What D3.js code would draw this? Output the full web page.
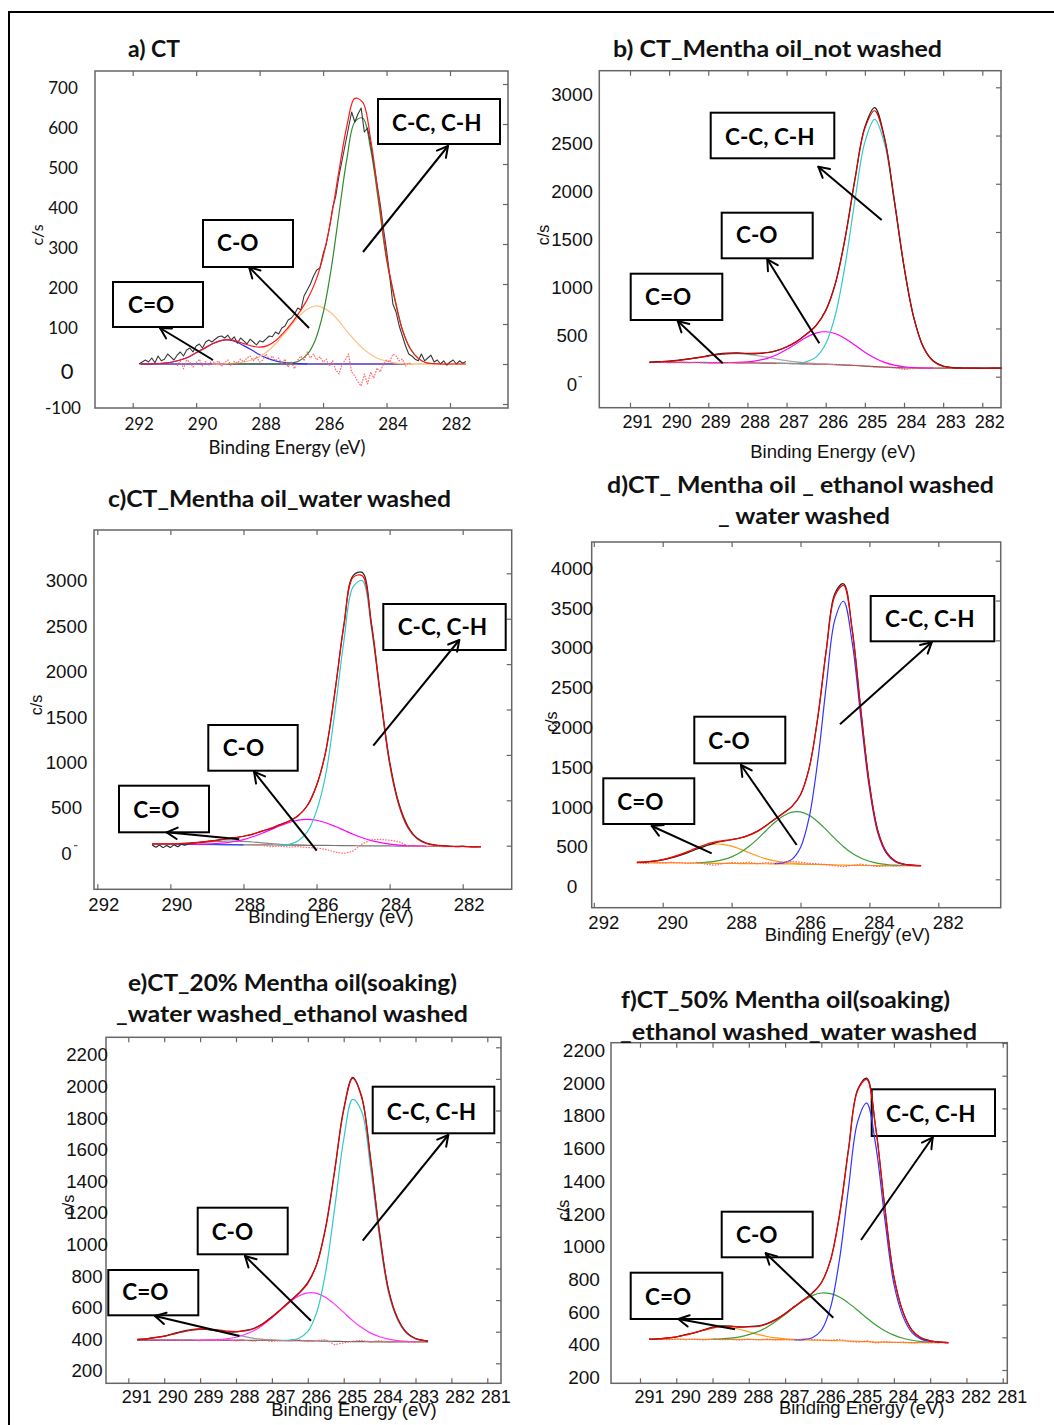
<!DOCTYPE html>
<html><head><meta charset="utf-8">
<script src="https://cdn.jsdelivr.net/npm/d3@7"></script>
<style>html,body{margin:0;padding:0;background:#fff;}svg{display:block;}</style>
</head><body>
<svg id="chart" width="1054" height="1425"></svg>
<script>
// ===================== DATA =====================
// ---- Panel a) CT ----
const aXTicks = [292, 290, 288, 286, 284, 282];
const aYTicks = [700, 600, 500, 400, 300, 200, 100, 0, -100];
const aEnergy = [291.75,291.5,291.25,291,290.75,290.5,290.25,290,289.75,289.5,289.25,289,288.75,288.5,288.25,288,287.75,287.5,287.25,287,286.75,286.5,286.25,286,285.75,285.5,285.25,285,284.75,284.5,284.25,284,283.75,283.5,283.25,283,282.75,282.5,282.25,282,281.75,281.5];
const aEnvelope = [0,0,1,2,5,10,17,28,39,50,58,61,58,51,45,42,46,58,78,101,129,161,204,268,363,482,595,664,654,561,417,268,168,86,38,14,3,1,0,0,0,0];
const aCdO = [0,0,1,2,5,10,17,28,39,50,58,60,56,46,35,23,14,8,4,2,1,0,null,null,null,null,null,null,null,null,null,null,null,null,null,null,null,null,null,null,null,null];
const aCO = [null,null,null,null,null,null,null,null,null,0,0,1,2,5,10,19,32,50,73,97,120,137,145,141,128,107,82,59,39,24,13,7,3,1,0,null,null,null,null,null,null,null];
const aCC = [null,null,null,null,null,null,null,null,null,null,null,0,0,0,0,0,0,0,1,2,8,24,59,127,235,375,513,605,615,537,404,261,165,85,38,14,3,1,null,null,null,null];
const aBaseEnergy = [291.8, 281.5];
const aBase = [0, 0];
const aBlueBaseEnergy = [291.75, 283.4];
const aBlueBase = [0, 0];
const aRawEnergy = [291.8,291.7,291.6,291.5,291.4,291.3,291.2,291.1,291.0,290.9,290.8,290.7,290.6,290.5,290.4,290.3,290.2,290.1,290.0,289.9,289.8,289.7,289.6,289.5,289.4,289.3,289.2,289.1,289.0,288.9,288.8,288.7,288.6,288.5,288.4,288.3,288.2,288.1,288.0,287.9,287.8,287.7,287.6,287.5,287.4,287.3,287.2,287.1,287.0,286.9,286.8,286.7,286.6,286.5,286.4,286.3,286.2,286.1,286.0,285.9,285.8,285.7,285.6,285.5,285.4,285.3,285.2,285.1,285.0,284.9,284.8,284.7,284.6,284.5,284.4,284.3,284.2,284.1,284.0,283.9,283.8,283.7,283.6,283.5,283.4,283.3,283.2,283.1,283.0,282.9,282.8,282.7,282.6,282.5,282.4,282.3,282.2,282.1,282.0,281.9,281.8,281.7,281.6,281.5];
const aRaw = [0,5,10,5,15,3,20,8,12,25,18,10,22,30,20,35,40,30,45,50,40,55,60,55,62,68,70,65,72,60,68,52,65,58,50,62,55,48,58,55,62,70,68,80,75,90,95,110,115,125,140,135,170,185,200,220,235,240,275,300,340,390,420,470,510,550,590,630,605,625,640,580,590,550,500,450,400,340,285,220,150,130,95,70,45,25,20,12,8,25,8,15,22,5,10,0,8,-3,5,10,0,8,2,6];
const aResEnergy = [290.6,290.5,290.4,290.3,290.2,290.1,290.0,289.9,289.8,289.7,289.6,289.5,289.4,289.3,289.2,289.1,289.0,288.9,288.8,288.7,288.6,288.5,288.4,288.3,288.2,288.1,288.0,287.9,287.8,287.7,287.6,287.5,287.4,287.3,287.2,287.1,287.0,286.9,286.8,286.7,286.6,286.5,286.4,286.3,286.2,286.1,286.0,285.9,285.8,285.7,285.6,285.5,285.4,285.3,285.2,285.1,285.0,284.9,284.8,284.7,284.6,284.5,284.4,284.3,284.2,284.1,284.0,283.9,283.8,283.7,283.6,283.5,283.4,283.3,283.2];
const aResidual = [-5,8,-12,10,5,-8,3,12,-5,6,-3,10,0,8,-6,4,10,-4,6,2,12,5,15,20,8,18,5,10,25,12,20,8,15,0,12,-8,5,-12,10,20,8,30,15,25,10,18,5,12,-5,8,-15,-25,0,10,25,-20,-30,-45,-55,-25,-50,-20,-35,-10,-20,0,10,5,25,20,8,12,-5,3,-2];

// ---- Panel b) CT_Mentha oil_not washed ----
const bXTicks = [291, 290, 289, 288, 287, 286, 285, 284, 283, 282];
const bYTicks = [3000, 2500, 2000, 1500, 1000, 500, 0];
const bEnergy = [290.5,290.25,290,289.75,289.5,289.25,289,288.75,288.5,288.25,288,287.75,287.5,287.25,287,286.75,286.5,286.25,286,285.75,285.5,285.25,285,284.75,284.5,284.25,284,283.75,283.5,283.25,283,282.75,282.5,282.25,282,281.75,281.5];
const bBaseline = [148,148,148,148,147,147,146,146,145,144,143,142,141,139,137,135,133,131,128,125,121,116,110,104,99,95,92,90,89,88,88,88,88,88,88,88,88];
const bPurpleEnergy = [290.5, 288.5];
const bPurple = [148, 145];
const bCdO = [151,155,161,170,182,198,214,229,237,239,232,219,202,183,166,153,143,136,130,126,null,null,null,null,null,null,null,null,null,null,null,null,null,null,null,null,null];
const bCO = [null,null,null,null,null,null,146,147,147,148,154,167,190,228,281,344,406,451,466,445,394,325,254,193,148,120,103,94,91,88,null,null,null,null,null,null,null];
const bCC = [null,null,null,null,null,null,null,null,null,null,null,null,null,139,138,139,153,203,341,647,1168,1838,2431,2668,2420,1817,1139,612,302,160,108,92,89,88,88,88,88];
const bResidual = [146,150,144,149,145,150,147,143,146,142,147,141,145,140,139,134,136,132,130,127,124,118,112,100,96,98,75,85,90,86,90,85,89,87,86,89,87];
const bRaw = [150,156,160,172,185,200,218,236,245,247,240,238,248,270,308,362,440,530,690,975,1450,2060,2590,2790,2480,1830,1140,610,300,162,110,95,90,88,87,88,88];
const bEnvelope = [151,155,161,170,182,198,214,230,239,243,243,244,251,272,311,366,436,528,681,968,1441,2047,2575,2757,2469,1842,1150,616,304,160,108,92,89,88,88,88,88];

// ---- Panel c) CT_Mentha oil_water washed ----
const cXTicks = [292, 290, 288, 286, 284, 282];
const cYTicks = [3000, 2500, 2000, 1500, 1000, 500, 0];
const cEnergy = [290.5,290.25,290,289.75,289.5,289.25,289,288.75,288.5,288.25,288,287.75,287.5,287.25,287,286.75,286.5,286.25,286,285.75,285.5,285.25,285,284.75,284.5,284.25,284,283.75,283.5,283.25,283,282.75,282.5,282.25,282,281.75,281.5];
const cBaseline = [19,18,17,16,16,15,14,13,12,11,10,10,9,8,7,6,5,4,4,3,2,1,0,-1,-1,-2,-3,-4,-4,-5,-6,-7,-8,-9,-9,-10,-11];
const cBlueEnergy = [290.5, 288.0];
const cBlue = [19, 10];
const cCdO = [20,20,20,23,28,33,40,47,51,51,47,41,32,24,16,11,8,5,null,null,null,null,null,null,null,null,null,null,null,null,null,null,null,null,null,null,null];
const cCO = [null,null,null,null,17,18,19,24,32,46,67,98,135,177,219,256,281,289,280,253,214,170,126,87,56,33,17,7,1,-2,-5,null,null,null,null,null,null];
const cCC = [null,null,null,null,null,null,null,null,null,null,null,null,null,null,8,14,55,154,384,780,1469,2257,2850,2920,2399,1621,893,446,196,75,24,5,-3,-9,-9,-10,-11];
const cResidual = [null,null,null,null,null,null,null,null,null,null,null,8,5,-10,-5,-15,-10,-20,-25,-40,-70,-85,-60,20,65,70,60,45,0,-5,-10,-5,-12,-10,-8,-12,-10];
const cRawEnergy = [290.5,290.4,290.3,290.2,290.1,290,289.9,289.8,289.7,289.6,289.5,289.25,289,288.75,288.5,288.25,288,287.75,287.5,287.25,287,286.75,286.5,286.25,286,285.75,285.5,285.25,285,284.75,284.5,284.25,284,283.75,283.5,283.25,283,282.75,282.5,282.25,282,281.75,281.5];
const cRaw = [10,-15,5,-20,0,-18,8,-10,15,5,22,35,48,60,74,88,104,125,160,190,232,272,330,445,665,1040,1690,2440,2975,3010,2440,1650,930,470,215,85,30,8,0,-8,-5,-12,-10];
const cEnvelope = [20,20,20,23,29,36,45,58,71,86,104,129,158,193,229,269,334,440,660,1030,1681,2426,2955,2973,2456,1656,913,457,201,78,25,5,-3,-9,-9,-10,-11];

// ---- Panel d) CT_ Mentha oil _ ethanol washed _ water washed ----
const dXTicks = [292, 290, 288, 286, 284, 282];
const dYTicks = [4000, 3500, 3000, 2500, 2000, 1500, 1000, 500, 0];
const dEnergy = [290.75,290.5,290.25,290,289.75,289.5,289.25,289,288.75,288.5,288.25,288,287.75,287.5,287.25,287,286.75,286.5,286.25,286,285.75,285.5,285.25,285,284.75,284.5,284.25,284,283.75,283.5,283.25,283,282.75,282.5];
const dBaseline = [208,208,207,207,206,205,204,203,202,201,200,199,198,197,196,195,194,193,192,190,188,186,183,180,177,175,174,173,172,172,171,171,171,171];
const dCdO = [213,219,230,248,275,310,351,392,425,442,439,416,379,336,293,257,231,213,202,194,190,null,null,null,null,null,null,null,null,null,null,null,null,null];
const dCO = [null,null,null,null,null,null,null,208,214,225,247,282,337,412,505,610,713,795,844,846,803,723,620,510,409,327,267,226,200,186,177,174,null,null];
const dCC = [null,null,null,null,null,null,null,null,null,null,null,null,null,null,null,null,196,206,250,398,773,1484,2437,3263,3491,2975,2035,1143,571,322,221,186,176,171];
const dResidual = [205,200,210,205,215,208,200,212,190,178,195,210,205,215,195,210,200,215,225,215,200,195,185,170,160,175,190,175,160,170,165,172,168,170];
const dRaw = [212,216,228,245,268,300,338,380,420,455,478,497,520,555,605,675,755,832,915,1065,1395,2030,2890,3590,3710,3140,2135,1200,605,338,230,190,178,172];
const dEnvelope = [213,219,230,248,275,310,351,397,437,466,486,499,518,551,602,672,752,828,912,1058,1390,2021,2874,3560,3690,3127,2128,1196,599,336,227,189,176,171];

// ---- Panel e) CT_20% Mentha oil(soaking)_water washed_ethanol washed ----
const eXTicks = [291, 290, 289, 288, 287, 286, 285, 284, 283, 282, 281];
const eYTicks = [2200, 2000, 1800, 1600, 1400, 1200, 1000, 800, 600, 400, 200];
const eEnergy = [290.75,290.5,290.25,290,289.75,289.5,289.25,289,288.75,288.5,288.25,288,287.75,287.5,287.25,287,286.75,286.5,286.25,286,285.75,285.5,285.25,285,284.75,284.5,284.25,284,283.75,283.5,283.25,283,282.75,282.65];
const eBaseline = [347,347,347,347,347,347,346,346,346,346,346,346,346,345,345,345,344,344,343,342,341,340,339,338,337,337,336,336,336,336,335,335,335,335];
const ePurpleEnergy = [290.75, 287.75];
const ePurple = [347, 346];
const eCdO = [351,355,362,372,385,398,409,415,415,407,395,381,369,358,352,348,345,null,null,null,null,null,null,null,null,null,null,null,null,null,null,null,null,null];
const eCO = [null,null,null,null,null,null,null,347,348,350,355,365,382,406,442,488,538,588,626,646,643,617,573,522,470,426,391,368,353,344,339,336,null,null];
const eCC = [null,null,null,null,null,null,null,null,null,null,null,null,null,null,null,null,345,347,359,402,524,782,1184,1617,1870,1793,1433,990,645,476,390,355,343,340];
const eResidual = [348,346,350,345,349,344,348,343,347,344,349,342,346,340,348,338,345,341,350,337,344,349,318,330,340,345,336,344,332,340,338,333,337,335];
const eRaw = [350,353,364,370,388,402,414,418,412,404,398,399,408,422,452,495,543,594,645,712,830,1065,1425,1810,2010,1890,1492,1025,665,486,395,357,344,340];
const eEnvelope = [351,355,362,372,385,398,409,416,417,411,404,400,405,419,449,491,540,591,642,706,826,1059,1418,1801,2003,1882,1488,1022,662,484,394,356,343,340];

// ---- Panel f) CT_50% Mentha oil(soaking)_ethanol washed_water washed ----
const fXTicks = [291, 290, 289, 288, 287, 286, 285, 284, 283, 282, 281];
const fYTicks = [2200, 2000, 1800, 1600, 1400, 1200, 1000, 800, 600, 400, 200];
const fEnergy = [290.75,290.5,290.25,290,289.75,289.5,289.25,289,288.75,288.5,288.25,288,287.75,287.5,287.25,287,286.75,286.5,286.25,286,285.75,285.5,285.25,285,284.75,284.5,284.25,284,283.75,283.5,283.25,283,282.75,282.5];
const fBaseline = [388,388,388,388,388,388,387,387,387,387,387,387,386,386,386,385,385,384,383,382,380,379,377,375,373,371,370,369,368,368,367,367,367,367];
const fCdO = [389,391,395,403,414,429,443,456,462,459,449,434,418,405,396,390,387,null,null,null,null,null,null,null,null,null,null,null,null,null,null,null,null,null];
const fCO = [null,null,null,null,null,null,null,389,391,395,403,416,434,462,498,539,583,624,655,671,667,646,609,565,518,475,440,413,394,382,374,370,368,null];
const fCC = [null,null,null,null,null,null,null,null,null,null,null,null,null,null,null,null,385,386,397,443,580,876,1315,1718,1832,1574,1123,726,528,428,389,375,370,367];
const fResidual = [387,389,385,390,386,388,384,389,385,387,383,388,385,389,384,387,383,390,386,384,381,388,376,370,378,366,374,368,371,365,369,366,370,364];
const fRaw = [388,390,396,402,416,427,445,462,470,468,462,466,470,484,510,546,588,628,672,735,872,1150,1555,1915,1985,1680,1195,772,556,444,397,379,370,368];
const fEnvelope = [389,391,395,403,414,429,443,458,466,467,465,463,466,481,508,544,585,626,669,732,867,1143,1547,1908,1977,1678,1193,770,554,442,396,378,371,367];

const peakLabels = ['C-C, C-H', 'C-O', 'C=O'];
const xTitle = 'Binding Energy (eV)';
const yTitle = 'c/s';

// ===================== DRAWING =====================
const svg = d3.select('#chart');
const FRAME = '#666';
const SANS = "'Liberation Sans', Arial, sans-serif";
const LATO = "Lato, 'Open Sans', sans-serif";

// outer figure frame
svg.append('line').attr('x1', 9).attr('y1', 12).attr('x2', 1054).attr('y2', 12).attr('stroke', '#000').attr('stroke-width', 2);
svg.append('line').attr('x1', 9).attr('y1', 11).attr('x2', 9).attr('y2', 1425).attr('stroke', '#000').attr('stroke-width', 2);

function arrow(g, x1, y1, x2, y2) {
  g.append('line').attr('x1', x1).attr('y1', y1).attr('x2', x2).attr('y2', y2)
    .attr('stroke', '#000').attr('stroke-width', 2);
  const ang = Math.atan2(y2 - y1, x2 - x1);
  const L = 12, A = 0.5;
  [ang + Math.PI - A, ang + Math.PI + A].forEach(a => {
    g.append('line').attr('x1', x2).attr('y1', y2)
      .attr('x2', x2 + L * Math.cos(a)).attr('y2', y2 + L * Math.sin(a))
      .attr('stroke', '#000').attr('stroke-width', 2).attr('stroke-linecap', 'round');
  });
}

function drawPanel(p) {
  const g = svg.append('g');
  const b = p.box;
  const x = d3.scaleLinear().domain(p.xDom).range(p.xRange);
  const y = d3.scaleLinear().domain(p.yDom).range(p.yRange);

  g.append('rect').attr('x', b.l).attr('y', b.t).attr('width', b.r - b.l).attr('height', b.b - b.t)
    .attr('fill', 'none').attr('stroke', FRAME).attr('stroke-width', 1.5);

  const tickStyle = s => { s.select('.domain').remove(); s.selectAll('line').attr('stroke', FRAME).attr('stroke-width', 1.2); };
  g.append('g').attr('transform', `translate(0,${b.t})`)
    .call(d3.axisTop(x).tickValues(p.xTicks).tickSize(-5).tickFormat('')).call(tickStyle);
  g.append('g').attr('transform', `translate(0,${b.b})`)
    .call(d3.axisBottom(x).tickValues(p.xTicks).tickSize(-5).tickFormat('')).call(tickStyle);
  g.append('g').attr('transform', `translate(${b.r},0)`)
    .call(d3.axisRight(y).tickValues(p.yTicks).tickSize(-5).tickFormat('')).call(tickStyle);

  // x tick labels
  const xl = g.append('g').attr('transform', `translate(${p.xLabelDx},${b.b + p.xLabelBase})`)
    .call(d3.axisBottom(x).tickValues(p.xTicks).tickSize(0).tickPadding(0).tickFormat(d => String(d)));
  xl.select('.domain').remove();
  xl.attr('font-family', p.font).attr('font-size', p.xLabelSize);
  xl.selectAll('text').attr('y', 0).attr('dy', null).attr('fill', '#111');

  // y tick labels
  const yl = g.append('g').attr('transform', `translate(${p.yLabelX},0)`)
    .call(d3.axisLeft(y).tickValues(p.yTicks).tickSize(0).tickPadding(0).tickFormat(d => String(d)));
  yl.select('.domain').remove();
  yl.attr('font-family', p.font).attr('font-size', p.yLabelSize).attr('text-anchor', 'middle');
  yl.selectAll('text').attr('x', 0).attr('dy', null).attr('y', p.yLabelBase).attr('fill', '#111');
  if (p.bigZero) {
    yl.selectAll('text').filter(d => d === 0).attr('font-size', 22).attr('x', 4).attr('y', 14.5);
  }
  if (p.zeroDash) {
    g.append('line').attr('x1', p.zeroDash[0]).attr('x2', p.zeroDash[0] + 3.5)
      .attr('y1', y(0)).attr('y2', y(0)).attr('stroke', '#333').attr('stroke-width', 1);
  }

  // axis titles
  g.append('text').attr('x', p.xTitlePos[0]).attr('y', p.xTitlePos[1]).attr('text-anchor', 'middle')
    .attr('font-family', p.font).attr('font-size', 18.5).attr('fill', '#111').text(xTitle);
  g.append('text').attr('transform', `translate(${p.yTitlePos[0]},${p.yTitlePos[1]}) rotate(-90)`)
    .attr('text-anchor', 'middle').attr('dominant-baseline', 'central')
    .attr('font-family', p.font).attr('font-size', 16).attr('fill', '#111').text(yTitle);

  // annotation boxes (drawn beneath curves)
  p.notes.forEach(n => {
    g.append('rect').attr('x', n.box[0]).attr('y', n.box[1]).attr('width', n.box[2] - n.box[0]).attr('height', n.box[3] - n.box[1])
      .attr('fill', '#fff').attr('stroke', '#000').attr('stroke-width', 2);
  });

  // series
  p.series.forEach(s => {
    const line = d3.line().defined(d => d[1] != null)
      .x(d => x(d[0])).y(d => y(d[1]))
      .curve(s.linear ? d3.curveLinear : d3.curveCatmullRom.alpha(0.5));
    const pts = s.energy.map((e, i) => [e, s.values[i]]);
    g.append('path').attr('d', line(pts)).attr('fill', 'none')
      .attr('stroke', s.color).attr('stroke-width', s.width || 1.2)
      .attr('stroke-dasharray', s.dash || null).attr('stroke-linejoin', 'round');
  });

  // annotation texts and arrows
  p.notes.forEach(n => {
    g.append('text').attr('x', n.text[0]).attr('y', n.text[1])
      .attr('font-family', LATO).attr('font-weight', 700).attr('font-size', 22.5).attr('fill', '#000').text(n.label);
    arrow(g, n.arrow[0], n.arrow[1], n.arrow[2], n.arrow[3]);
  });
}

const res = '1.6,1.2';

drawPanel({
  box: {l: 95, t: 71, r: 508, b: 408},
  xDom: [292, 282], xRange: [132.7, 450], yDom: [0, 700], yRange: [364, 84],
  xTicks: aXTicks, yTicks: aYTicks, font: LATO, xLabelSize: 17, yLabelSize: 17,
  xLabelDx: 6, xLabelBase: 22, yLabelX: 63, yLabelBase: 9.5, bigZero: true,
  xTitlePos: [287, 454], yTitlePos: [36, 235],
  notes: [
    {label: peakLabels[0], box: [378, 99, 500, 144], text: [392, 131], arrow: [363, 252, 448, 146]},
    {label: peakLabels[1], box: [203, 220, 293, 267], text: [217, 251], arrow: [309, 328, 249, 267]},
    {label: peakLabels[2], box: [113, 282, 203, 327], text: [128, 313], arrow: [213, 360, 160, 328]}
  ],
  series: [
    {energy: aBaseEnergy, values: aBase, color: '#ff9933', linear: true},
    {energy: aBlueBaseEnergy, values: aBlueBase, color: '#0000ff', linear: true},
    {energy: aEnergy, values: aCdO, color: '#2a2aff'},
    {energy: aEnergy, values: aCO, color: '#ffbf80'},
    {energy: aEnergy, values: aCC, color: '#2e8b2e'},
    {energy: aResEnergy, values: aResidual, color: '#ff6a6a', linear: true, dash: res},
    {energy: aRawEnergy, values: aRaw, color: '#383838', linear: true, width: 1.1},
    {energy: aEnergy, values: aEnvelope, color: '#ff1a1a'}
  ]
});

drawPanel({
  box: {l: 599.3, t: 70.7, r: 1001, b: 407.7},
  xDom: [291, 282], xRange: [630, 982.3], yDom: [0, 3000], yRange: [376.7, 87.3],
  xTicks: bXTicks, yTicks: bYTicks, font: SANS, xLabelSize: 18, yLabelSize: 18.7,
  xLabelDx: 7, xLabelBase: 20.5, yLabelX: 572, yLabelBase: 13.5, zeroDash: [578.5],
  xTitlePos: [833, 457.7], yTitlePos: [543, 235],
  notes: [
    {label: peakLabels[0], box: [710.7, 112.7, 834.3, 158.3], text: [725, 144.5], arrow: [881.7, 220, 818.3, 166.7]},
    {label: peakLabels[1], box: [721.7, 212.7, 812.7, 258.3], text: [736, 243], arrow: [819.3, 343.3, 767.3, 259.3]},
    {label: peakLabels[2], box: [630.7, 273.7, 722.3, 320], text: [645, 304.5], arrow: [722.7, 363.3, 677.7, 321]}
  ],
  series: [
    {energy: bEnergy, values: bBaseline, color: '#555'},
    {energy: bPurpleEnergy, values: bPurple, color: '#8a3bd0', linear: true},
    {energy: bEnergy, values: bCdO, color: '#aaaaaa'},
    {energy: bEnergy, values: bCO, color: '#ff00ff'},
    {energy: bEnergy, values: bCC, color: '#33c9c9'},
    {energy: bEnergy, values: bResidual, color: '#ff5a5a', linear: true, dash: res},
    {energy: bEnergy, values: bRaw, color: '#222'},
    {energy: bEnergy, values: bEnvelope, color: '#e00000'}
  ]
});

drawPanel({
  box: {l: 94, t: 530, r: 511.7, b: 889.3},
  xDom: [292, 282], xRange: [97.3, 462.7], yDom: [0, 3000], yRange: [845.7, 573.3],
  xTicks: cXTicks, yTicks: cYTicks, font: SANS, xLabelSize: 18.5, yLabelSize: 18.7,
  xLabelDx: 6, xLabelBase: 21.4, yLabelX: 66.5, yLabelBase: 13.5, zeroDash: [74],
  xTitlePos: [331, 923.3], yTitlePos: [36, 705],
  notes: [
    {label: peakLabels[0], box: [383.3, 604, 505.7, 650], text: [397.7, 634.5], arrow: [373.3, 745.7, 459.3, 640]},
    {label: peakLabels[1], box: [208.3, 725, 297.7, 770.7], text: [222.7, 756], arrow: [316.7, 850.7, 254, 771.7]},
    {label: peakLabels[2], box: [119, 785.7, 209, 832.3], text: [133.3, 818], arrow: [239.3, 839.3, 166.7, 832.3]}
  ],
  series: [
    {energy: cEnergy, values: cBaseline, color: '#777'},
    {energy: cBlueEnergy, values: cBlue, color: '#3344ff', linear: true},
    {energy: cEnergy, values: cCdO, color: '#888'},
    {energy: cEnergy, values: cCO, color: '#ff00ff'},
    {energy: cEnergy, values: cCC, color: '#33c9c9'},
    {energy: cEnergy, values: cResidual, color: '#ff6f6f', linear: true, dash: res},
    {energy: cRawEnergy, values: cRaw, color: '#2a2a2a'},
    {energy: cEnergy, values: cEnvelope, color: '#ff0000'}
  ]
});

drawPanel({
  box: {l: 591.7, t: 542, r: 1000.7, b: 907.7},
  xDom: [290, 282], xRange: [662.7, 938.3], yDom: [0, 4000], yRange: [879.3, 560.7],
  xTicks: dXTicks, yTicks: dYTicks, font: SANS, xLabelSize: 18.5, yLabelSize: 19,
  xLabelDx: 9.5, xLabelBase: 21.6, yLabelX: 572, yLabelBase: 13.5,
  xTitlePos: [847.5, 940.7], yTitlePos: [551.7, 721.7],
  notes: [
    {label: peakLabels[0], box: [870.7, 596, 994.3, 641.3], text: [885, 627], arrow: [840, 724.3, 931.7, 642.3]},
    {label: peakLabels[1], box: [694.3, 716.7, 785.3, 763.3], text: [708.3, 748.5], arrow: [796.7, 845, 741, 765]},
    {label: peakLabels[2], box: [603.3, 778.3, 694.3, 824], text: [617.3, 809.5], arrow: [711.7, 853.3, 651.7, 826]}
  ],
  series: [
    {energy: dEnergy, values: dBaseline, color: '#ff9900'},
    {energy: dEnergy, values: dCdO, color: '#ff9a1a'},
    {energy: dEnergy, values: dCO, color: '#3a9e3a'},
    {energy: dEnergy, values: dCC, color: '#3333ff'},
    {energy: dEnergy, values: dResidual, color: '#ff6666', linear: true, dash: res},
    {energy: dEnergy, values: dRaw, color: '#222'},
    {energy: dEnergy, values: dEnvelope, color: '#ff0000'}
  ]
});

drawPanel({
  box: {l: 106, t: 1037.3, r: 501, b: 1383.3},
  xDom: [291, 281], xRange: [128.3, 487.3], yDom: [200, 2200], yRange: [1363.3, 1047.3],
  xTicks: eXTicks, yTicks: eYTicks, font: SANS, xLabelSize: 18, yLabelSize: 18.7,
  xLabelDx: 8, xLabelBase: 20, yLabelX: 87, yLabelBase: 13.5,
  xTitlePos: [354, 1415.7], yTitlePos: [68.3, 1205],
  notes: [
    {label: peakLabels[0], box: [372.7, 1086.7, 494.3, 1133.3], text: [386.7, 1119.5], arrow: [362.7, 1240.7, 448.3, 1135]},
    {label: peakLabels[1], box: [197.7, 1207.7, 287.7, 1254.3], text: [211.7, 1239.5], arrow: [311, 1320.7, 245, 1256]},
    {label: peakLabels[2], box: [108.3, 1270, 198.3, 1315.3], text: [122.3, 1300.3], arrow: [239.3, 1336, 155, 1316]}
  ],
  series: [
    {energy: eEnergy, values: eBaseline, color: '#666'},
    {energy: ePurpleEnergy, values: ePurple, color: '#9933cc', linear: true},
    {energy: eEnergy, values: eCdO, color: '#999'},
    {energy: eEnergy, values: eCO, color: '#ff33ff'},
    {energy: eEnergy, values: eCC, color: '#33c9c9'},
    {energy: eEnergy, values: eResidual, color: '#ff6666', linear: true, dash: res},
    {energy: eEnergy, values: eRaw, color: '#333'},
    {energy: eEnergy, values: eEnvelope, color: '#ee0000'}
  ]
});

drawPanel({
  box: {l: 611, t: 1042.7, r: 1007.3, b: 1383.3},
  xDom: [291, 281], xRange: [640, 1002.7], yDom: [200, 2000], yRange: [1370, 1075.7],
  xTicks: fXTicks, yTicks: fYTicks, font: SANS, xLabelSize: 18, yLabelSize: 19,
  xLabelDx: 9, xLabelBase: 20, yLabelX: 584, yLabelBase: 13.5,
  xTitlePos: [861.7, 1414.3], yTitlePos: [563.3, 1210],
  notes: [
    {label: peakLabels[0], box: [871.7, 1089.3, 995, 1136], text: [886, 1122], arrow: [861, 1240, 932.7, 1137.3]},
    {label: peakLabels[1], box: [721.7, 1211.7, 812.7, 1257.3], text: [736, 1243], arrow: [833.3, 1317.7, 765.7, 1253.3]},
    {label: peakLabels[2], box: [630.7, 1272.7, 722.3, 1319], text: [645, 1304.5], arrow: [735, 1329.3, 678.3, 1319]}
  ],
  series: [
    {energy: fEnergy, values: fBaseline, color: '#ff9900'},
    {energy: fEnergy, values: fCdO, color: '#ff9a1a'},
    {energy: fEnergy, values: fCO, color: '#3a9e3a'},
    {energy: fEnergy, values: fCC, color: '#3333ff'},
    {energy: fEnergy, values: fResidual, color: '#ff6666', linear: true, dash: res},
    {energy: fEnergy, values: fRaw, color: '#222'},
    {energy: fEnergy, values: fEnvelope, color: '#ff0000'}
  ]
});

// panel titles
const titles = [
  {t: 'a) CT', x: 128, y: 57, w: 52},
  {t: 'b) CT_Mentha oil_not washed', x: 613, y: 57, w: 329},
  {t: 'c)CT_Mentha oil_water washed', x: 108, y: 507, w: 343},
  {t: 'd)CT_ Mentha oil _ ethanol washed', x: 607, y: 493, w: 387},
  {t: '_ water washed', x: 718, y: 523.5, w: 172},
  {t: 'e)CT_20% Mentha oil(soaking)', x: 128, y: 991, w: 329},
  {t: '_water washed_ethanol washed', x: 116, y: 1022, w: 352},
  {t: 'f)CT_50% Mentha oil(soaking)', x: 621, y: 1007.5, w: 329},
  {t: '_ethanol washed_water washed', x: 620, y: 1039.5, w: 357}
];
titles.forEach(d => {
  svg.append('text').attr('x', d.x).attr('y', d.y)
    .attr('font-family', LATO).attr('font-weight', 700).attr('font-size', 23)
    .attr('textLength', d.w).attr('lengthAdjust', 'spacingAndGlyphs')
    .attr('fill', '#111').text(d.t);
});
</script>
</body></html>
